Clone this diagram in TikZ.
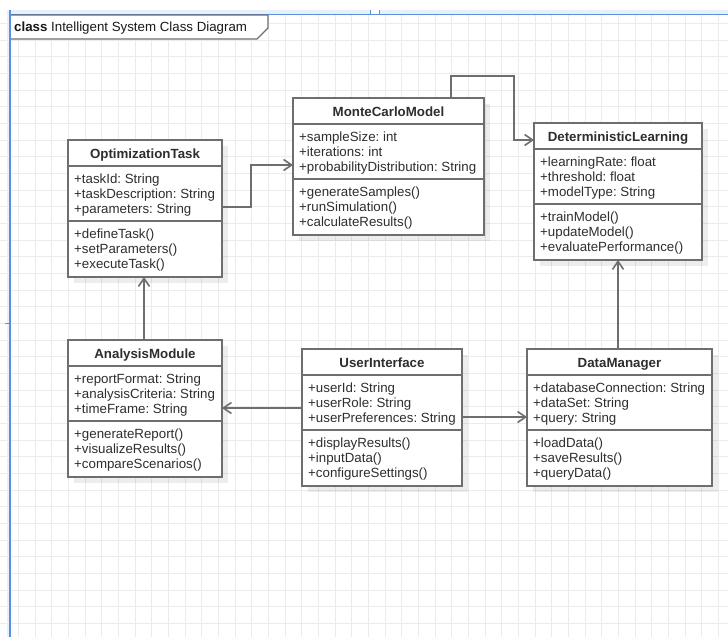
\documentclass[tikz,border=0pt]{standalone}
\usepackage{fontspec}
\setmainfont{Liberation Sans}
\frenchspacing
\usetikzlibrary{arrows.meta,calc}
\definecolor{gridc}{HTML}{EBEBEB}
\definecolor{framec}{HTML}{5B8FE0}
\definecolor{bandc}{HTML}{E6EFFC}
\definecolor{linec}{HTML}{6E6E6E}
\definecolor{textc}{HTML}{2E2E2E}
\tikzset{
  classbox/.style={draw=linec, line width=1.7pt, fill=white, inner sep=0pt, outer sep=0pt, rectangle},
  divider/.style={draw=linec, line width=1.7pt},
  ctitle/.style={font=\fontsize{13.3}{15}\selectfont\bfseries, text=textc, inner sep=0pt, anchor=base},
  member/.style={font=\fontsize{13.3}{15}\selectfont, text=textc, inner sep=0pt, anchor=base west},
  assoc/.style={draw=linec, line width=1.6pt, -{Straight Barb[length=8pt,width=11pt]}},
  gridline/.style={draw=gridc, line width=1pt},
}
\newcommand\umlclass[7]{%
  \fill[black, opacity=0.07] (#2+6,#3+6) rectangle ++(#4,137);
  \node[classbox, minimum width=#4pt, minimum height=137pt, anchor=north west] (#1) at (#2,#3) {};
  \draw[divider] ($(#1.north west)+(0,26)$) -- ($(#1.north east)+(0,26)$);
  \draw[divider] ($(#1.north west)+(0,81)$) -- ($(#1.north east)+(0,81)$);
  \node[ctitle] (#1-t) at ($(#1.north)+(0,18)$) {#5};
  \foreach \m [count=\i] in {#6} \node[member] (#1-a\i) at ($(#1.north west)+(6,28+15*\i)$) {\m};
  \foreach \m [count=\i] in {#7} \node[member] (#1-o\i) at ($(#1.north west)+(6,83+15*\i)$) {\m};
}
\begin{document}
\begin{tikzpicture}[x=1pt,y=-1pt]
\useasboundingbox (0,0) rectangle (728,637);
\fill[white] (0,0) rectangle (728,637);
% grid
\foreach \k in {1,...,43} \draw[gridline] ({1.67+16.667*\k},10) -- ({1.67+16.667*\k},637);
\foreach \k in {1,...,37} \draw[gridline] (0,{6.67+16.667*\k}) -- (728,{6.67+16.667*\k});
% editor frame
\fill[bandc] (10,10) rectangle (728,14.5);
\fill[bandc] (7,10) rectangle (10,637);
\fill[white] (370,10) rectangle (379,14.5);
\draw[framec, line width=0.8pt] (370,10) -- (370,15) (379,10) -- (379,15);
\draw[framec, line width=1.2pt] (10,14.8) -- (728,14.8);
% frame label
\filldraw[draw=linec, fill=white, line width=1.2pt] (10,15) -- (268,15) -- (268,28) -- (257,39) -- (10,39);
\draw[framec, line width=1.2pt] (268,14.8) -- (728,14.8);
\draw[framec, line width=1.2pt] (10,10) -- (10,637);
\draw[framec, line width=1pt] (5,323.5) -- (10,323.5);
\node[anchor=base west, inner sep=0pt, font=\fontsize{13.3}{15}\selectfont, text=black!90] (frametitle) at (14,31) {\textbf{class} Intelligent System Class Diagram};
% classes
\umlclass{OT}{68}{140}{154}{OptimizationTask}{+taskId: String,+taskDescription: String,+parameters: String}{+defineTask(),+setParameters(),+executeTask()}
\umlclass{MC}{293}{98}{191}{MonteCarloModel}{+sampleSize: int,+iterations: int,+probabilityDistribution: String}{+generateSamples(),+runSimulation(),+calculateResults()}
\umlclass{DL}{534}{123}{168}{DeterministicLearning}{+learningRate: float,+threshold: float,+modelType: String}{+trainModel(),+updateModel(),+evaluatePerformance()}
\umlclass{AM}{68}{340}{154}{AnalysisModule}{+reportFormat: String,+analysisCriteria: String,+timeFrame: String}{+generateReport(),+visualizeResults(),+compareScenarios()}
\umlclass{UI}{302}{349}{160}{UserInterface}{+userId: String,+userRole: String,+userPreferences: String}{+displayResults(),+inputData(),+configureSettings()}
\umlclass{DM}{527}{349}{185}{DataManager}{+databaseConnection: String,+dataSet: String,+query: String}{+loadData(),+saveResults(),+queryData()}
% connectors
\draw[assoc] ($(OT.north east)+(0,67)$) -- ++(29,0) |- ($(MC.north west)+(0,67)$);
\draw[assoc] ($(MC.north west)+(158,0)$) |- ($(DL.north west)+(-20,-47)$) |- ($(DL.north west)+(0,17)$);
\draw[assoc] ($(AM.north west)+(76,0)$) -- ($(OT.south west)+(76,0)$);
\draw[assoc] ($(UI.north west)+(0,59)$) -- ($(AM.north east)+(0,68)$);
\draw[assoc] ($(UI.north east)+(0,68)$) -- ($(DM.north west)+(0,68)$);
\draw[assoc] ($(DM.north west)+(91,0)$) -- ($(DL.south west)+(84,0)$);
\end{tikzpicture}
\end{document}
